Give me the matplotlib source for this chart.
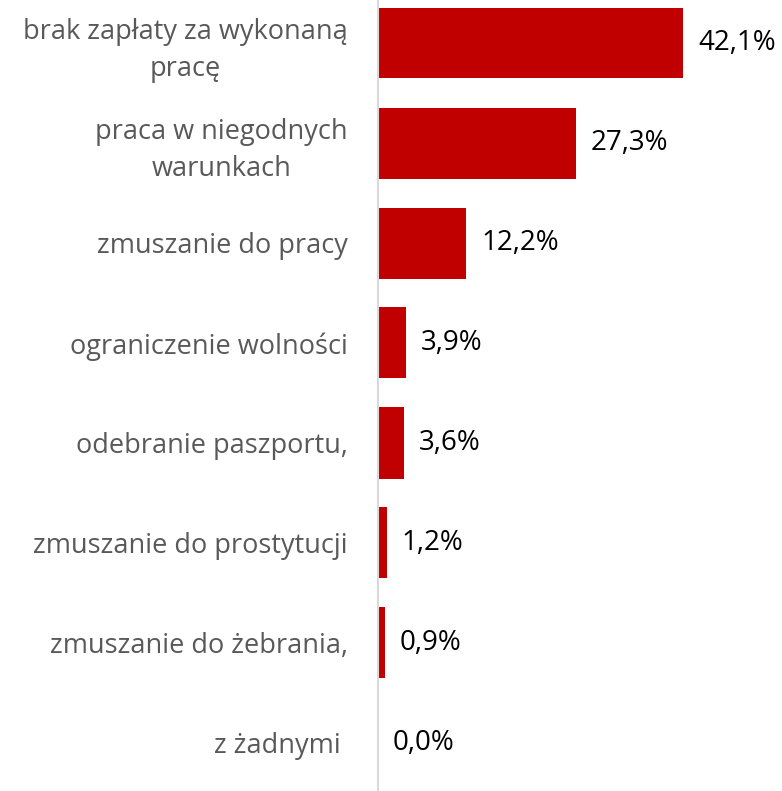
import matplotlib
matplotlib.use("Agg")
import matplotlib.pyplot as plt

categories = [
    "brak zapłaty za wykonaną\npracę",
    "praca w niegodnych\nwarunkach",
    "zmuszanie do pracy",
    "ograniczenie wolności",
    "odebranie paszportu,",
    "zmuszanie do prostytucji",
    "zmuszanie do żebrania,",
    "z żadnymi ",
]
values = [42.1, 27.3, 12.2, 3.9, 3.6, 1.2, 0.9, 0.0]
value_labels = ["42,1%", "27,3%", "12,2%", "3,9%", "3,6%", "1,2%", "0,9%", "0,0%"]

plt.rcParams['font.family'] = ['Open Sans', 'DejaVu Sans']

fig = plt.figure(figsize=(7.82, 7.91), dpi=100)
ax = fig.add_axes([378/782, 0, 1 - 378/782, 1])

ypos = list(range(len(categories)))
ax.barh(ypos, values, height=0.71, color="#C00000")
ax.set_xlim(0, 404/7.245)
ax.set_ylim(7.48, -0.43)

for y, v, lab in zip(ypos, values, value_labels):
    ax.annotate(lab, xy=(v, y), xytext=(15, 0), textcoords="offset pixels",
                ha="left", va="center", fontsize=20, color="black")

ax.set_yticks(ypos)
ax.set_yticklabels(categories, fontsize=19.5, color="#595959", multialignment="center", linespacing=1.4)
ax.tick_params(axis="y", length=0, pad=21.6)
ax.set_xticks([])
for s in ["top", "right", "bottom"]:
    ax.spines[s].set_visible(False)
ax.spines["left"].set_color("#D9D9D9")
ax.spines["left"].set_linewidth(1.5)

fig.savefig("out.png", dpi=100)
